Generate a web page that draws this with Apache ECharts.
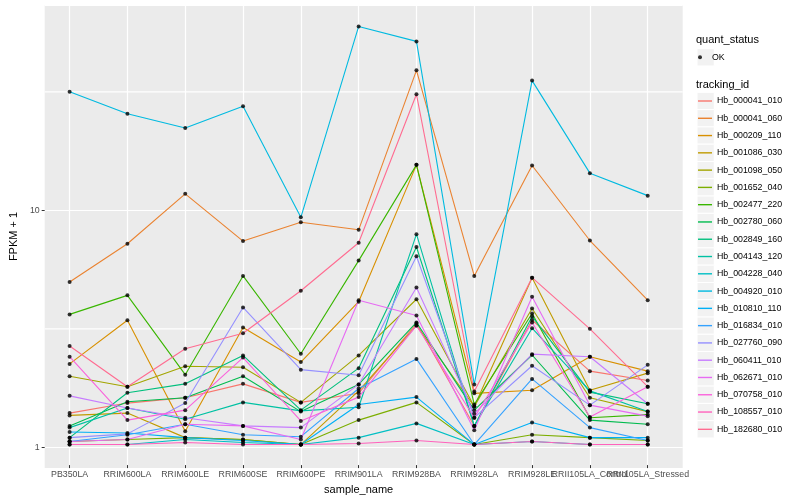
<!DOCTYPE html>
<html><head><meta charset="utf-8">
<script src="https://cdn.jsdelivr.net/npm/echarts/dist/echarts.min.js"></script>
<style>html,body{margin:0;padding:0;background:#fff}#c{width:800px;height:500px}</style>
</head><body><div id="c"></div>
<script>
const categories = ['PB350LA','RRIM600LA','RRIM600LE','RRIM600SE','RRIM600PE','RRIM901LA','RRIM928BA','RRIM928LA','RRIM928LE','RRII105LA_Control','RRII105LA_Stressed'];
const trackingIds = ['Hb_000041_010','Hb_000041_060','Hb_000209_110','Hb_001086_030','Hb_001098_050','Hb_001652_040','Hb_002477_220','Hb_002780_060','Hb_002849_160','Hb_004143_120','Hb_004228_040','Hb_004920_010','Hb_010810_110','Hb_016834_010','Hb_027760_090','Hb_060411_010','Hb_062671_010','Hb_070758_010','Hb_108557_010','Hb_182680_010'];
const hueColors = ['#F8766D','#EA8331','#D89000','#C09B00','#A3A500','#7CAE00','#39B600','#00BB4E','#00BF7D','#00C1A3','#00BFC4','#00BAE0','#00B0F6','#35A2FF','#9590FF','#C77CFF','#E76BF3','#FA62DB','#FF62BC','#FF6C91'];

// FPKM + 1 per sample, in category order
const Hb_000041_010 = [1.36, 1.50, 1.58, 1.81, 1.51, 1.65, 3.27, 1.20, 3.38, 2.05, 1.87];
const Hb_000041_060 = [4.90, 7.12, 11.6, 7.31, 8.79, 8.16, 38.8, 5.20, 15.3, 7.35, 4.10];
const Hb_000209_110 = [2.20, 3.37, 1.14, 3.14, 2.24, 4.04, 15.4, 1.65, 1.70, 2.36, 2.05];
const Hb_001086_030 = [1.33, 1.36, 1.07, 1.05, 1.00, 1.69, 3.20, 1.45, 5.11, 1.70, 2.01];
const Hb_001098_050 = [1.95, 1.76, 2.15, 2.13, 1.51, 2.39, 4.14, 1.45, 3.78, 1.58, 1.38];
const Hb_001652_040 = [1.03, 1.05, 1.07, 1.05, 1.00, 1.27, 1.51, 1.00, 1.10, 1.07, 1.04];
const Hb_002477_220 = [3.57, 4.30, 1.98, 5.20, 2.43, 6.04, 15.4, 1.48, 3.60, 1.30, 1.34];
const Hb_002780_060 = [1.20, 1.52, 1.58, 1.95, 1.38, 1.80, 3.30, 1.40, 2.40, 1.27, 1.22];
const Hb_002849_160 = [1.07, 1.66, 1.81, 2.39, 1.40, 2.11, 6.90, 1.20, 3.50, 1.67, 1.49];
const Hb_004143_120 = [1.18, 1.43, 1.28, 1.51, 1.39, 1.44, 7.82, 1.20, 3.12, 1.69, 1.38];
const Hb_004228_040 = [1.00, 1.00, 1.05, 1.02, 1.00, 1.07, 1.23, 1.00, 1.03, 1.00, 1.00];
const Hb_004920_010 = [31.5, 25.4, 22.1, 27.3, 9.22, 59.6, 51.5, 1.80, 35.1, 14.2, 11.4];
const Hb_010810_110 = [1.13, 1.12, 1.07, 1.04, 1.00, 1.48, 1.59, 1.00, 1.24, 1.07, 1.07];
const Hb_016834_010 = [1.03, 1.10, 1.22, 1.10, 1.08, 1.73, 2.31, 1.00, 1.90, 1.18, 1.04];
const Hb_027760_090 = [1.07, 1.11, 1.50, 3.82, 2.08, 1.97, 6.30, 1.30, 2.16, 1.47, 2.18];
const Hb_060411_010 = [1.61, 1.43, 1.30, 1.20, 1.18, 1.80, 4.64, 1.35, 2.42, 2.36, 1.49];
const Hb_062671_010 = [1.03, 1.05, 1.22, 1.20, 1.05, 4.10, 3.53, 1.15, 4.24, 1.47, 1.32];
const Hb_070758_010 = [2.36, 1.27, 1.40, 2.34, 1.26, 1.59, 3.20, 1.30, 3.30, 1.31, 1.76];
const Hb_108557_010 = [1.00, 1.00, 1.02, 1.00, 1.00, 1.01, 1.04, 1.00, 1.03, 1.00, 1.00];
const Hb_182680_010 = [2.62, 1.76, 2.55, 2.97, 4.50, 7.19, 30.7, 1.68, 5.11, 3.10, 1.76];

const seriesValues = [Hb_000041_010,Hb_000041_060,Hb_000209_110,Hb_001086_030,Hb_001098_050,Hb_001652_040,Hb_002477_220,Hb_002780_060,Hb_002849_160,Hb_004143_120,Hb_004228_040,Hb_004920_010,Hb_010810_110,Hb_016834_010,Hb_027760_090,Hb_060411_010,Hb_062671_010,Hb_070758_010,Hb_108557_010,Hb_182680_010];

const yTickLabels = [1, 10];
const minorBreaks = [3.1623, 31.623];
const yMin = 0.818, yMax = 73.5;

const FONT = 'Liberation Sans, Arial, sans-serif';
const chart = echarts.init(document.getElementById('c'), null, {renderer: 'canvas'});

const lineSeries = trackingIds.map((id, i) => ({
  name: id, type: 'line', xAxisIndex: 1, yAxisIndex: 1,
  data: seriesValues[i], showSymbol: false, symbol: 'none',
  lineStyle: {color: hueColors[i], width: 1.1}, itemStyle: {color: hueColors[i]},
  emphasis: {disabled: true}, silent: true, z: 2
}));
const okPoints = [];
seriesValues.forEach(vals => vals.forEach((v, j) => okPoints.push([categories[j], v])));

// minor grid lines drawn as a white line series across the panel
const minorGridSeries = minorBreaks.map(v => ({
  type: 'line', xAxisIndex: 0, yAxisIndex: 0, data: [[0, v], [1, v]],
  symbol: 'none', showSymbol: false, silent: true, z: 1,
  lineStyle: {color: '#FFFFFF', width: 1.2, opacity: 1}, emphasis: {disabled: true}
}));

// legend key backgrounds
const KEY = 17.28, keyX = 697, firstRow = 101;
const graphics = [{type: 'rect', shape: {x: keyX, y: 57.3 - KEY/2, width: KEY, height: KEY}, style: {fill: '#F2F2F2', stroke: '#fff', lineWidth: 1}, z: -1}];
trackingIds.forEach((id, i) => graphics.push({type: 'rect', shape: {x: keyX, y: firstRow - KEY/2 + i*KEY, width: KEY, height: KEY}, style: {fill: '#F2F2F2', stroke: '#fff', lineWidth: 1}, z: -1}));

chart.setOption({
  animation: false,
  backgroundColor: '#fff',
  textStyle: {fontFamily: FONT},
  title: [
    {text: 'quant_status', left: 696, top: 34.5, padding: 0, textStyle: {fontSize: 11, fontWeight: 'normal', color: '#000', fontFamily: FONT}},
    {text: 'tracking_id', left: 696, top: 79.5, padding: 0, textStyle: {fontSize: 11, fontWeight: 'normal', color: '#000', fontFamily: FONT}}
  ],
  graphic: graphics,
  legend: [
    {data: ['OK'], left: 698, top: 50.3, orient: 'vertical', padding: 0, itemWidth: 14, itemHeight: 4, icon: 'circle', symbolKeepAspect: true, selectedMode: false, textStyle: {fontSize: 8.8, lineHeight: 14, color: '#000', fontFamily: FONT}},
    {data: trackingIds, left: 698, top: 94, orient: 'vertical', padding: 0, itemWidth: 14, itemHeight: 1.4, icon: 'rect', itemGap: 3.28, selectedMode: false, textStyle: {fontSize: 8.8, lineHeight: 14, color: '#000', fontFamily: FONT}}
  ],
  grid: [
    {left: 34.8, right: 117.3, top: 5, bottom: 32, show: true, backgroundColor: '#EBEBEB', borderWidth: 0},
    {left: 69.6, right: 152.3, top: 5, bottom: 32, show: false}
  ],
  xAxis: [
    {type: 'value', gridIndex: 0, min: 0, max: 1, show: false},
    {type: 'category', gridIndex: 1, data: categories, boundaryGap: false,
     axisLine: {show: false},
     axisTick: {show: true, length: 3, interval: 0, lineStyle: {color: '#333', width: 1}},
     axisLabel: {interval: 0, margin: 5, fontSize: 8.8, color: '#4D4D4D', fontFamily: FONT},
     splitLine: {show: true, interval: 0, lineStyle: {color: '#fff', width: 1.2}},
     name: 'sample_name', nameLocation: 'middle', nameGap: 16.5,
     nameTextStyle: {fontSize: 11, color: '#000', fontFamily: FONT}}
  ],
  yAxis: [
    {type: 'log', logBase: 10, gridIndex: 0, min: yMin, max: yMax,
     axisLine: {show: false},
     axisTick: {show: true, length: 3, lineStyle: {color: '#333', width: 1}},
     axisLabel: {margin: 5, fontSize: 8.8, color: '#4D4D4D', fontFamily: FONT, showMinLabel: false, showMaxLabel: false,
       formatter: v => yTickLabels.some(t => Math.abs(t - v) < 1e-6) ? String(Math.round(v)) : ''},
     splitLine: {show: true, lineStyle: {color: '#fff', width: 1.2}},
     name: 'FPKM + 1', nameLocation: 'middle', nameGap: 16.5,
     nameTextStyle: {fontSize: 11, color: '#000', fontFamily: FONT}},
    {type: 'log', logBase: 10, gridIndex: 1, min: yMin, max: yMax, show: false}
  ],
  series: [
    ...minorGridSeries,
    ...lineSeries,
    {name: 'OK', type: 'scatter', xAxisIndex: 1, yAxisIndex: 1, data: okPoints, symbol: 'circle', symbolSize: 4,
     itemStyle: {color: '#000'}, silent: true, z: 3}
  ]
});
</script>
</body></html>
